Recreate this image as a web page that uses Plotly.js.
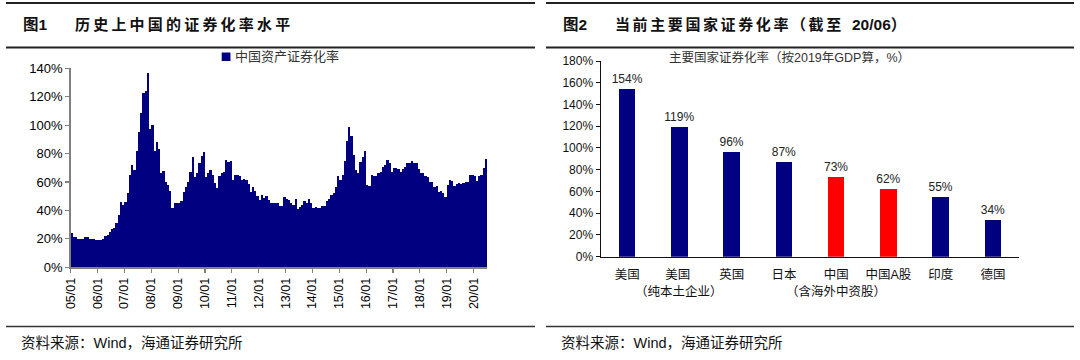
<!DOCTYPE html>
<html>
<head>
<meta charset="utf-8">
<script src="https://cdn.plot.ly/plotly-3.0.1.min.js"></script>
<style>
html,body{margin:0;padding:0;background:#ffffff;}
#chart{width:1080px;height:360px;}
</style>
</head>
<body>
<div id="chart"></div>
<script>
// ---------- DATA ----------
// Monthly securitization rate of China (%), 2005/01 .. 2020/06
const securitizationRate = [
  24, 21.6, 21, 20, 19.7, 20, 21, 21, 20.2, 19.8, 20, 19.4,
  18.9, 19.3, 19.8, 22, 22.5, 25, 26.7, 27.5, 31.5, 36.6, 45.8, 43.5,
  45.8, 52.5, 65, 72, 68.8, 81.6, 95, 108.8, 122.5, 124.3, 136.5, 97,
  100, 82, 88, 83, 66, 68, 60, 58, 54, 41.5, 45.5, 45,
  45.5, 46.5, 52.8, 56.3, 60.3, 67.3, 77.8, 63.4, 66.3, 73.2, 78.6, 80.8,
  63.5, 66, 68.3, 64.6, 59.3, 55.8, 63.9, 66.4, 67.2, 75.8, 74.4, 74.6,
  61.7, 64.6, 65.2, 64.5, 61.7, 62, 61.5, 58.8, 53, 56.5, 53.5, 50.5,
  47.6, 51.2, 48.5, 50.5, 47.6, 45.5, 45, 45.5, 45.5, 43.2, 43.2, 49.3,
  47.9, 47.4, 45.5, 43.9, 47.9, 40.8, 42.2, 43.9, 46.9, 45.5, 47.9, 45,
  41.5, 42.2, 41.5, 41.5, 43.2, 43.2, 46.9, 47.9, 50.9, 52, 56.8, 64.3,
  61.5, 65, 75, 89, 99, 92.4, 79, 68.5, 66, 74.4, 77.9, 82.1,
  57.9, 57.2, 65, 64.3, 64.3, 66.6, 67, 70.4, 72, 75.5, 73.2, 67.3,
  69.7, 69.7, 69, 67.3, 69, 70.4, 73.2, 73.7, 75, 73.2, 73.7, 69,
  66.6, 66.2, 64.3, 63.8, 60, 60, 56.8, 57.2, 53.2, 54, 52, 49.7,
  57.7, 61.5, 61, 57.2, 58.6, 59.1, 58.6, 59.1, 60.3, 60, 65, 65,
  64.3, 61, 64.3, 65, 69.7, 76
];
const yearTickLabels = ['05/01','06/01','07/01','08/01','09/01','10/01','11/01','12/01',
                        '13/01','14/01','15/01','16/01','17/01','18/01','19/01','20/01'];
const leftLegendName = '中国资产证券化率';

const countryLabels = ['美国','美国 ','英国','日本','中国','中国A股','印度','德国'];
const countrySubLabels = ['','（纯本土企业）','','','（含海外中资股）','','',''];
const countryRates = [154, 119, 96, 87, 73, 62, 55, 34];
const countryIsChina = [false,false,false,false,true,true,false,false];
const rightChartTitle = '主要国家证券化率（按2019年GDP算，%）';

const title1Num = '图1', title1Text = '历史上中国的证券化率水平';
const title2Num = '图2', title2Text = '当前主要国家证券化率（截至', title2Tail = '20/06）';
const sourceText = '资料来源：Wind，海通证券研究所';

// ---------- STYLE ----------
const W = 1080, H = 360;
const px = x => x / W;
const py = y => 1 - y / H;
const NAVY = '#000080', RED = '#FF0000';
const FONT = 'Liberation Sans, Arial, Noto Sans CJK SC, sans-serif';
const CJK = 'Liberation Sans, Noto Sans CJK SC, sans-serif';

const monthIndex = securitizationRate.map((_, i) => i);
const yearTickVals = yearTickLabels.map((_, k) => k * 12 - 0.5);

const traces = [
  {
    type: 'bar', x: monthIndex, y: securitizationRate, width: 1,
    xaxis: 'x', yaxis: 'y', name: leftLegendName,
    marker: {color: NAVY, line: {width: 0}},
    hoverinfo: 'skip'
  },
  {
    type: 'bar', x: countryLabels, y: countryRates, width: 0.32,
    xaxis: 'x2', yaxis: 'y2',
    marker: {color: countryIsChina.map(c => c ? RED : NAVY), line: {width: 0}},
    text: countryRates.map(v => v + '%'), textposition: 'outside', constraintext: 'none',
    textfont: {family: FONT, size: 12, color: '#222'},
    cliponaxis: false, hoverinfo: 'skip'
  }
];

const shapes = [
  // header lines
  {type:'line', xref:'paper', yref:'paper', x0:px(6), x1:px(535), y0:py(3), y1:py(3), line:{color:'#222', width:1.8}},
  {type:'line', xref:'paper', yref:'paper', x0:px(6), x1:px(535), y0:py(47.5), y1:py(47.5), line:{color:'#222', width:2}},
  {type:'line', xref:'paper', yref:'paper', x0:px(546), x1:px(1074), y0:py(3), y1:py(3), line:{color:'#222', width:1.8}},
  {type:'line', xref:'paper', yref:'paper', x0:px(546), x1:px(1074), y0:py(47.5), y1:py(47.5), line:{color:'#222', width:2}},
  // footer lines
  {type:'line', xref:'paper', yref:'paper', x0:px(6), x1:px(535), y0:py(326.5), y1:py(326.5), line:{color:'#333', width:1.5}},
  {type:'line', xref:'paper', yref:'paper', x0:px(546), x1:px(1074), y0:py(326.5), y1:py(326.5), line:{color:'#333', width:1.5}},
  // legend swatch
  {type:'rect', xref:'paper', yref:'paper', x0:px(221.7), x1:px(230.5), y0:py(61), y1:py(52.5), fillcolor:NAVY, line:{width:0}}
];

const annotations = [
  {text:title1Num, x:px(20.5), y:py(24.5), xanchor:'left', yanchor:'middle', font:{family:CJK, size:15.5, color:'#111', weight:'bold'}},
  {text:title1Text, x:px(72.5), y:py(24.5), xanchor:'left', yanchor:'middle', font:{family:CJK, size:15, color:'#111', weight:'bold'}},
  {text:title2Num, x:px(561), y:py(24.5), xanchor:'left', yanchor:'middle', font:{family:CJK, size:15.5, color:'#111', weight:'bold'}},
  {text:title2Text, x:px(612.5), y:py(24.5), xanchor:'left', yanchor:'middle', font:{family:CJK, size:15, color:'#111', weight:'bold'}},
  {text:title2Tail, x:px(850), y:py(24.5), xanchor:'left', yanchor:'middle', font:{family:CJK, size:15.5, color:'#111', weight:'bold'}},
  {text:sourceText, x:px(19), y:py(342.5), xanchor:'left', yanchor:'middle', font:{family:CJK, size:14.5, color:'#111'}},
  {text:sourceText, x:px(558.5), y:py(342.5), xanchor:'left', yanchor:'middle', font:{family:CJK, size:14.5, color:'#111'}},
  {text:leftLegendName, x:px(233), y:py(56.5), xanchor:'left', yanchor:'middle', font:{family:CJK, size:13, color:'#333'}},
  {text:rightChartTitle, x:px(789), y:py(58), xanchor:'center', yanchor:'middle', font:{family:CJK, size:12.5, color:'#333'}}
];
countrySubLabels.forEach((s, i) => {
  if (s) annotations.push({text:s, xref:'x2', yref:'paper', x:countryLabels[i], y:py(291.7),
    xanchor:'center', yanchor:'middle', font:{family:CJK, size:12.5, color:'#111'}});
});
annotations.forEach(a => { if (!a.xref) a.xref = 'paper'; if (!a.yref) a.yref = 'paper'; a.showarrow = false; });

const layout = {
  width: W, height: H,
  margin: {l:0, r:0, t:0, b:0},
  paper_bgcolor: '#fff', plot_bgcolor: '#fff',
  showlegend: false,
  bargap: 0,
  font: {family: FONT, color: '#000'},
  xaxis: {
    domain: [px(70.7), px(487)], anchor: 'y',
    range: [-0.5, 185.5], showgrid: false, zeroline: false,
    tickmode: 'array', tickvals: yearTickVals, ticktext: yearTickLabels,
    tickangle: -90, ticks: 'outside', ticklen: 4, tickwidth: 1.2, tickcolor: '#808080',
    showline: true, linecolor: '#808080', linewidth: 1.5,
    tickfont: {family: FONT, size: 12.5, color: '#000'}
  },
  yaxis: {
    domain: [py(267.3), py(68.3)], anchor: 'x',
    range: [0, 140], dtick: 20, ticksuffix: '%', showgrid: false, zeroline: false,
    ticks: 'outside', ticklen: 4, tickwidth: 1.2, tickcolor: '#808080',
    showline: true, linecolor: '#808080', linewidth: 1.5,
    tickfont: {family: FONT, size: 13, color: '#000'}
  },
  xaxis2: {
    domain: [px(601), px(1019)], anchor: 'y2', type: 'category',
    range: [-0.5, 7.5], showgrid: false, zeroline: false,
    tickangle: 0, ticks: 'outside', ticklen: 6, tickcolor: 'rgba(0,0,0,0)',
    showline: true, linecolor: '#111', linewidth: 1.5,
    tickfont: {family: CJK, size: 12.5, color: '#111'}
  },
  yaxis2: {
    domain: [py(256.7), py(61)], anchor: 'x2',
    range: [0, 180], dtick: 20, ticksuffix: '%', showgrid: false, zeroline: false,
    ticks: 'outside', ticklen: 4, tickwidth: 1, tickcolor: '#111',
    showline: true, linecolor: '#111', linewidth: 1.5,
    tickfont: {family: FONT, size: 12, color: '#111'}
  },
  shapes: shapes,
  annotations: annotations
};

Plotly.newPlot('chart', traces, layout, {staticPlot: true, displayModeBar: false}).then(gd => {
  // widen character spacing of the headline titles (as in the reference)
  gd.querySelectorAll('.annotation-text').forEach(t => {
    const s = t.textContent;
    if (s === title1Text || s === title2Text) {
      const w0 = t.getBBox().width;
      t.style.letterSpacing = (s === title1Text ? 3.2 : 2.6) + 'px';
      const w1 = t.getBBox().width;
      const x = parseFloat(t.getAttribute('x')) || 0;
      t.setAttribute('x', x + (w1 - w0) / 2);
    }
  });
});
</script>
</body>
</html>
